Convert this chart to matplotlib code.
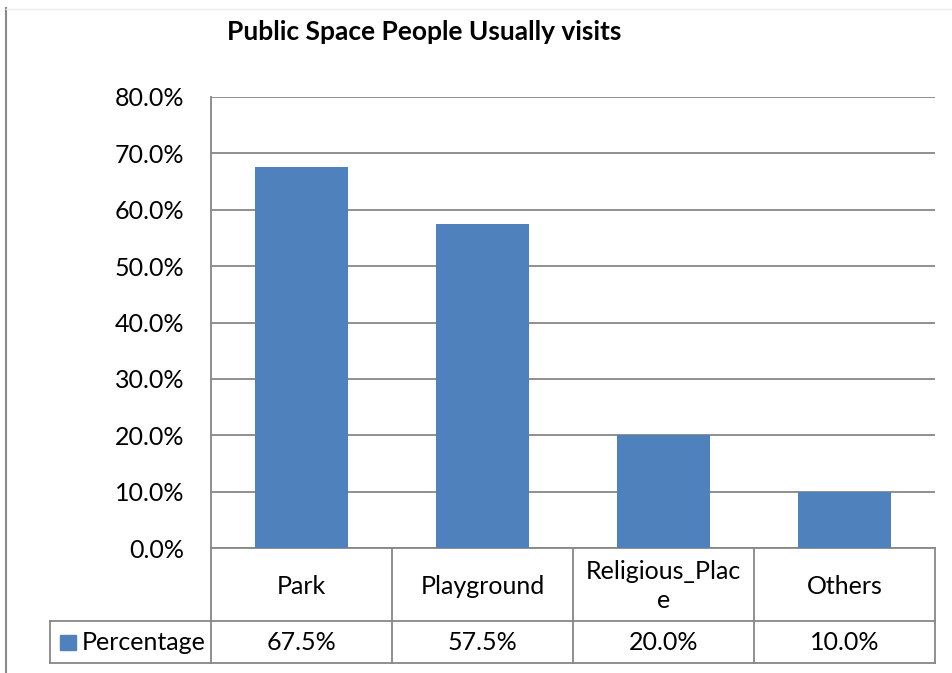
import matplotlib
matplotlib.use("Agg")
import matplotlib.pyplot as plt
from matplotlib.lines import Line2D
from matplotlib.patches import Rectangle
from matplotlib.transforms import blended_transform_factory

plt.rcParams['font.family'] = ['Lato', 'DejaVu Sans']

categories = ["Park", "Playground", "Religious_Plac\ne", "Others"]
values = [67.5, 57.5, 20.0, 10.0]
series_name = "Percentage"
title = "Public Space People Usually visits"
yticks = [0, 10, 20, 30, 40, 50, 60, 70, 80]

W, H = 952, 673
fig = plt.figure(figsize=(W / 100, H / 100), dpi=100)
fig.patch.set_facecolor("white")

bar_color = "#4F81BD"
line_color = "#878787"
fs = 18

# plot area in pixels
left, right, top, bottom = 211, 935, 97, 548
ax = fig.add_axes([left / W, (H - bottom) / H, (right - left) / W, (bottom - top) / H])

x = list(range(len(categories)))
ax.bar(x, values, width=0.51, color=bar_color, zorder=3)
ax.set_xlim(-0.5, len(categories) - 0.5)
ax.set_ylim(0, 80)
ax.set_yticks(yticks)
ax.set_yticklabels([f"{v:.1f}%" for v in yticks], fontsize=fs)
ax.tick_params(axis="y", length=0, pad=19)
ax.set_xticks([])
ax.yaxis.grid(True, color=line_color, linewidth=1.3, zorder=0)
for s in ["top", "right", "bottom"]:
    ax.spines[s].set_visible(False)
ax.spines["left"].set_color(line_color)
ax.spines["left"].set_linewidth(1.3)

fig.text(424 / W, 1 - 32 / H, title, fontsize=19, fontweight="bold",
         ha="center", va="center")

# data table below the plot
h_ax = bottom - top
row1 = -(621 - bottom) / h_ax
row2 = -(663 - bottom) / h_ax
leg_left = (50 - left) / (right - left)
bt = blended_transform_factory(ax.transData, ax.transAxes)
at = ax.transAxes
kw = dict(color=line_color, linewidth=1.3, clip_on=False)

ax.add_line(Line2D([0, 1], [0, 0], transform=at, **kw))
ax.add_line(Line2D([leg_left, 1], [row1, row1], transform=at, **kw))
ax.add_line(Line2D([leg_left, 1], [row2, row2], transform=at, **kw))
ax.add_line(Line2D([leg_left, leg_left], [row1, row2], transform=at, **kw))
for b in [i - 0.5 for i in range(len(categories) + 1)]:
    ax.add_line(Line2D([b, b], [0, row2], transform=bt, **kw))

cat_mid = -(586 - bottom) / h_ax
for xi, cat, v in zip(x, categories, values):
    ax.text(xi, cat_mid, cat, transform=bt, ha="center", va="center",
            fontsize=fs, linespacing=1.3)
    ax.text(xi, (row1 + row2) / 2, f"{v:.1f}%", transform=bt,
            ha="center", va="center", fontsize=fs)

# legend key inside the table
ymid = 1 - 642 / H
fig.patches.append(Rectangle((60 / W, ymid - 7.5 / H), 16 / W, 15 / H,
                             transform=fig.transFigure, color=bar_color))
fig.text(82 / W, ymid, series_name, fontsize=fs, ha="left", va="center")

# chart frame edges
fig.add_artist(Line2D([6 / W, 6 / W], [0, 1 - 8 / H], color="#8a8a8a", linewidth=1.5))
fig.add_artist(Line2D([6 / W, 1], [1 - 9 / H, 1 - 9 / H], color="#eeeeee", linewidth=1))

fig.savefig("out.png", dpi=100)
